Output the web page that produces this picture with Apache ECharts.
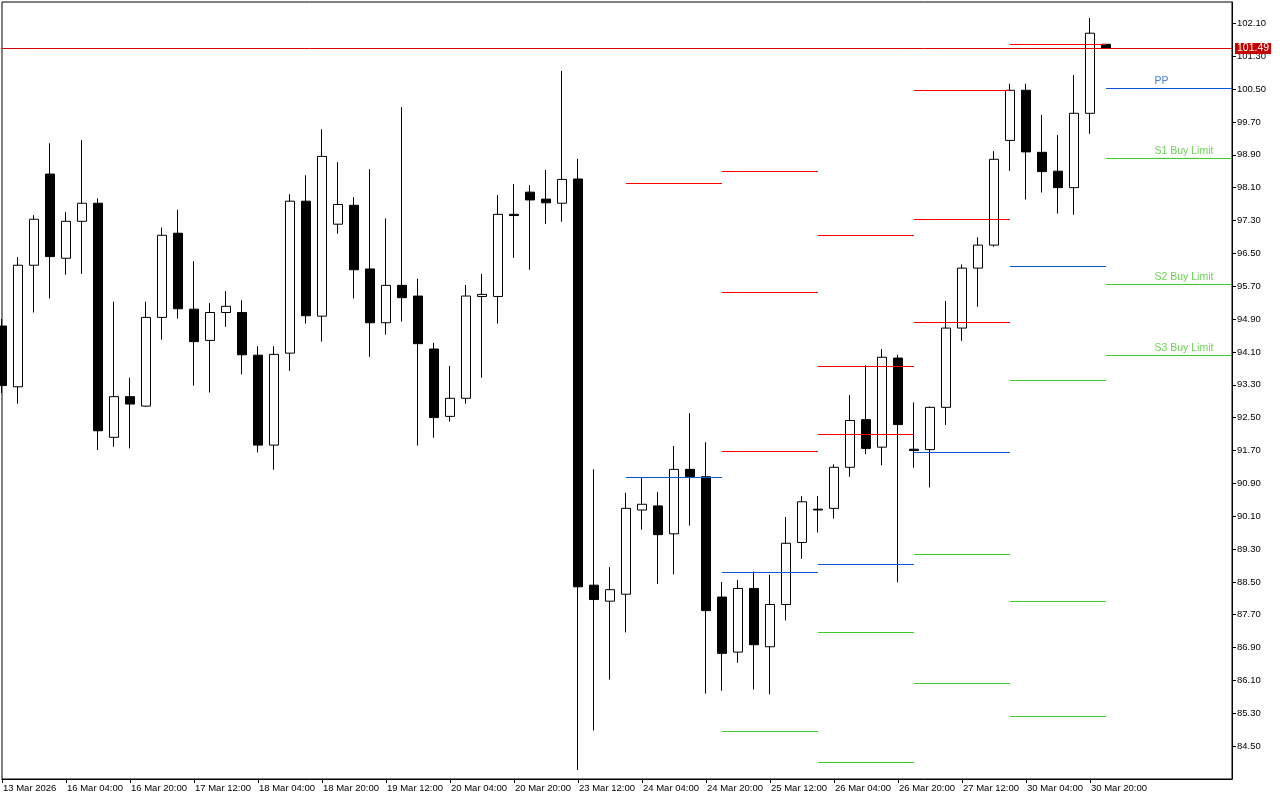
<!DOCTYPE html>
<html>
<head>
<meta charset="utf-8">
<script src="https://cdn.jsdelivr.net/npm/echarts@6/dist/echarts.min.js"></script>
<style>html,body{margin:0;padding:0;background:#fff}#c{width:1280px;height:800px}</style>
</head>
<body>
<div id="c"></div>
<script>
// ---- X axis (H4 bars, index based) ----
const tickIndex = [0, 4, 8, 12, 16, 20, 24, 28, 32, 36, 40, 44, 48, 52, 56, 60, 64, 68];
const tickLabels = ['13 Mar 2026', '16 Mar 04:00', '16 Mar 20:00', '17 Mar 12:00', '18 Mar 04:00',
  '18 Mar 20:00', '19 Mar 12:00', '20 Mar 04:00', '20 Mar 20:00', '23 Mar 12:00', '24 Mar 04:00',
  '24 Mar 20:00', '25 Mar 12:00', '26 Mar 04:00', '26 Mar 20:00', '27 Mar 12:00', '30 Mar 04:00', '30 Mar 20:00'];

// ---- Y axis ticks ----
const yTicks = [84.50, 85.30, 86.10, 86.90, 87.70, 88.50, 89.30, 90.10, 90.90, 91.70, 92.50, 93.30,
  94.10, 94.90, 95.70, 96.50, 97.30, 98.10, 98.90, 99.70, 100.50, 101.30, 102.10];

// ---- OHLC ----
const opens = [94.73, 93.25, 96.21, 98.43, 96.38, 97.28, 97.72, 92.02, 93.01, 92.78,
  94.94, 96.99, 95.14, 94.38, 95.06, 95.06, 94.02, 91.83, 94.07, 97.77,
  94.97, 97.21, 97.67, 96.12, 94.81, 95.72, 95.46, 94.17, 92.53, 92.97,
  95.45, 95.45, 97.45, 97.99, 97.82, 97.72, 98.31, 88.42, 88.03, 88.20,
  90.25, 90.35, 89.67, 91.24, 91.06, 88.13, 86.79, 88.34, 86.92, 87.95,
  89.46, 90.27, 90.29, 91.29, 92.45, 91.78, 93.95, 91.73, 91.72, 92.75,
  94.68, 96.14, 96.70, 99.25, 100.47, 98.96, 98.50, 98.10, 99.91, 101.59];
const closes = [93.28, 96.21, 97.33, 96.42, 97.28, 97.72, 92.18, 93.01, 92.83, 94.94,
  96.94, 95.15, 94.35, 95.06, 95.21, 94.03, 91.83, 94.04, 97.77, 94.98,
  98.86, 97.69, 96.10, 94.81, 95.72, 95.42, 94.30, 92.50, 92.97, 95.46,
  95.50, 97.45, 97.42, 97.80, 97.73, 98.30, 88.38, 88.07, 88.31, 90.29,
  90.39, 89.65, 91.24, 91.06, 87.80, 86.76, 88.34, 86.97, 87.95, 89.44,
  90.45, 90.25, 91.29, 92.43, 91.75, 93.97, 92.33, 91.70, 92.75, 94.68,
  96.14, 96.70, 98.79, 100.47, 98.97, 98.49, 98.10, 99.91, 101.86, 101.49];
const lows = [93.10, 92.84, 95.06, 95.40, 95.98, 96.00, 91.71, 91.79, 91.75, 92.76,
  94.40, 94.91, 93.28, 93.11, 94.71, 93.55, 91.65, 91.23, 93.64, 94.79,
  94.35, 96.98, 95.40, 93.98, 94.52, 94.84, 91.82, 92.01, 92.40, 92.84,
  93.47, 94.79, 96.39, 96.10, 97.22, 97.27, 83.92, 84.88, 86.12, 87.27,
  89.77, 88.45, 88.68, 89.87, 85.78, 85.85, 86.53, 85.88, 85.76, 87.56,
  89.06, 89.70, 90.04, 91.06, 91.61, 91.34, 88.49, 91.28, 90.80, 92.32,
  94.37, 95.20, 96.66, 98.51, 97.81, 97.98, 97.47, 97.44, 99.41, 101.48];
const highs = [94.90, 96.41, 97.43, 99.18, 97.51, 99.26, 97.84, 95.32, 93.47, 95.32,
  97.13, 97.56, 96.31, 95.29, 95.58, 95.36, 94.24, 94.24, 97.94, 98.40,
  99.52, 98.72, 97.87, 98.55, 97.35, 100.06, 95.88, 94.32, 93.76, 95.73,
  96.00, 97.92, 98.19, 98.16, 98.53, 100.94, 98.80, 91.24, 88.86, 90.67,
  91.04, 90.69, 91.81, 92.61, 91.90, 88.50, 88.55, 88.75, 88.67, 90.08,
  90.59, 90.59, 91.36, 93.05, 93.77, 94.17, 94.03, 92.87, 92.77, 95.34,
  96.23, 96.89, 98.99, 100.63, 100.63, 99.87, 99.38, 100.84, 102.23, 101.60];

// ---- Daily pivot levels (24, 25, 26, 27, 30, 31 Mar) ----
const pivotStart = [39, 45, 51, 57, 63, 69];
const pivotEnd = [45, 51, 57, 63, 69, null];   // null = to right edge
const R3 = [null, 98.51, 96.93, 100.48, null, null];
const R2 = [null, 95.55, 93.74, 97.33, null, null];
const R1 = [98.20, 91.68, 92.09, 94.82, 101.60, null];
const PP = [91.04, 88.73, 88.93, 91.66, 96.18, 100.52];
const S1 = [null, 84.86, 87.28, 89.18, 93.41, 98.81];
const S2 = [null, null, 84.11, 86.02, 88.03, 95.75];
const S3 = [null, null, null, null, 85.23, 94.02];
const levelLabels = ['PP', 'S1 Buy Limit', 'S2 Buy Limit', 'S3 Buy Limit'];
const lastPrice = 101.49;

// ---- build ----
const X_MAX = 76.875, Y_MIN = 83.70, Y_MAX = 102.62;
const RED = '#ff0000', BLUE = '#0a55d8', GREEN = '#3ccc28';
const FONT = 'Liberation Sans';

const candleData = opens.map((o, i) => [i, o, closes[i], lows[i], highs[i]]);

const segs = [];
function addLevel(arr, color) {
  arr.forEach((v, d) => {
    if (v == null) return;
    const e = pivotEnd[d] == null ? X_MAX : pivotEnd[d];
    segs.push([{ coord: [pivotStart[d], v], lineStyle: { color: color } }, { coord: [e, v] }]);
  });
}
addLevel(R3, RED); addLevel(R2, RED); addLevel(R1, RED);
addLevel(PP, BLUE);
addLevel(S1, GREEN); addLevel(S2, GREEN); addLevel(S3, GREEN);

const last = PP.length - 1;
const labelVals = [PP[last], S1[last], S2[last], S3[last]];
const labelColors = ['#1a5cd6', '#48c82a', '#48c82a', '#48c82a'];
const labelData = labelVals.map((v, k) => ({
  value: [72, v], name: levelLabels[k], label: { color: labelColors[k] }
}));

const chart = echarts.init(document.getElementById('c'), null, { renderer: 'canvas' });
chart.setOption({
  animation: false,
  backgroundColor: '#ffffff',
  grid: { left: 2, top: 2, right: 48, bottom: 21, show: true, borderColor: '#000', borderWidth: 1, backgroundColor: 'transparent' },
  xAxis: {
    type: 'value', min: 0, max: X_MAX,
    splitLine: { show: false },
    axisLine: { show: true, onZero: false, lineStyle: { color: '#000', width: 1 } },
    axisTick: { show: true, length: 4, customValues: tickIndex, lineStyle: { color: '#000' } },
    axisLabel: {
      customValues: tickIndex, align: 'left', margin: 4, padding: [0, 0, 0, 1],
      color: '#000', fontSize: 9.5, fontFamily: FONT,
      formatter: v => { const k = tickIndex.indexOf(Math.round(v)); return k >= 0 ? tickLabels[k] : ''; }
    }
  },
  yAxis: {
    type: 'value', position: 'right', min: Y_MIN, max: Y_MAX, scale: true,
    splitLine: { show: false },
    axisLine: { show: true, onZero: false, lineStyle: { color: '#000', width: 1 } },
    axisTick: { show: true, length: 4, customValues: yTicks, lineStyle: { color: '#000' } },
    axisLabel: {
      customValues: yTicks, margin: 5, color: '#000', fontSize: 9.5, fontFamily: FONT,
      formatter: v => v.toFixed(2)
    }
  },
  series: [
    {
      type: 'candlestick',
      data: candleData,
      barWidth: 9,
      itemStyle: { color: '#ffffff', color0: '#000000', borderColor: '#000000', borderColor0: '#000000', borderWidth: 1 },
      markLine: {
        silent: true, symbol: 'none', animation: false,
        lineStyle: { type: 'solid', width: 1 },
        label: { show: false },
        data: segs.concat([{
          yAxis: lastPrice,
          lineStyle: { color: '#dd0000', type: 'solid', width: 1 },
          label: {
            show: true, position: 'end', distance: 3, formatter: lastPrice.toFixed(2),
            color: '#ffffff', backgroundColor: '#c40000', padding: [1, 2, 0, 2],
            fontSize: 10.5, lineHeight: 10, fontFamily: FONT
          }
        }])
      }
    },
    {
      type: 'scatter',
      data: labelData,
      symbolSize: 1,
      silent: true,
      itemStyle: { color: 'rgba(0,0,0,0)' },
      label: { show: true, position: 'right', distance: 0, offset: [0, -7], formatter: '{b}', fontSize: 10.5, fontFamily: FONT }
    }
  ]
});
</script>
</body>
</html>
